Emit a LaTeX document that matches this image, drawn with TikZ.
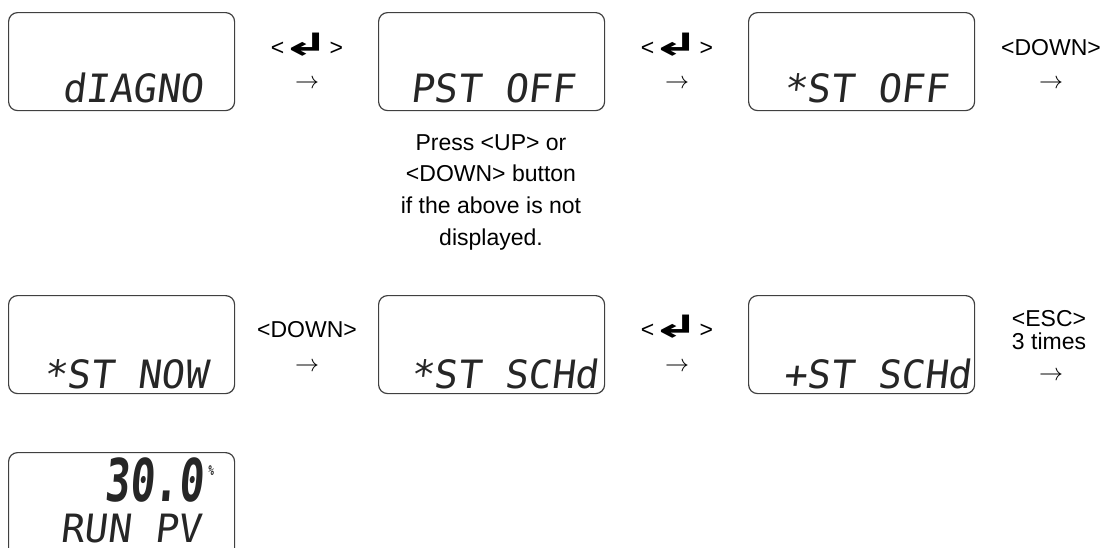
\documentclass[tikz,border=0pt]{standalone}
\usepackage{fontspec}
\setmainfont{Liberation Sans}
\newfontfamily\lcdfont[FakeSlant=0.12]{DejaVu Sans Mono}
\newfontfamily\keyfont{DejaVu Sans}
\usetikzlibrary{positioning,calc}
\newcommand\enterkey{{\keyfont\bfseries\fontsize{14pt}{14pt}\selectfont
  \kern-1.5pt\scalebox{2.1}[1.1]{↲}\kern-0.5pt}}

\begin{document}
\begin{tikzpicture}[
    x=0.5pt, y=-0.5pt,
    lcd/.style={draw=black!75, line width=0.6pt, rounded corners=4.5pt,
                minimum width=113pt, minimum height=49pt, inner sep=0pt, anchor=north west},
    seg/.style={font=\lcdfont\fontsize{19.5pt}{20pt}\selectfont, text=black!85,
                inner sep=0pt, anchor=base west},
    key/.style={font=\fontsize{11.5pt}{12pt}\selectfont, inner sep=0pt, anchor=base},
    note/.style={font=\fontsize{11.5pt}{15.8pt}\selectfont, inner sep=0pt, align=center},
  ]
  \clip (0,0) rectangle (1102,547);
  % displays
  \node[lcd] (d1) at (8,12)   {};
  \node[lcd] (d2) at (378,12) {};
  \node[lcd] (d3) at (748,12) {};
  \node[lcd] (d4) at (8,295)   {};
  \node[lcd] (d5) at (378,295) {};
  \node[lcd] (d6) at (748,295) {};
  \node[lcd, minimum height=60pt] (d7) at (8,452) {};
  % display texts
  \node[seg] (t1) at (62,102)  {dIAGNO};
  \node[seg] (t2) at (410,102) {PST~OFF};
  \node[seg] (t3) at (783,102) {*ST~OFF};
  \node[seg] (t4) at (43,388)  {*ST~NOW};
  \node[seg] (t5) at (410,388) {*ST~SCHd};
  \node[seg] (t6) at (783,388) {+ST~SCHd};
  \node[seg, font=\lcdfont\bfseries\fontsize{29.5pt}{30pt}\selectfont, xscale=0.7,
        anchor=base east] (t7) at (214,501)
        {30.0\kern3pt\raisebox{13pt}{\fontsize{7pt}{7pt}\selectfont\%}};
  \node[seg, font=\lcdfont\fontsize{19.5pt}{20pt}\selectfont] (t8) at (60,542) {RUN~PV};
  % keys, row 1
  \node[key] (k1) at (307,55)  {<\enterkey>};
  \node[key] (a1) at (307,88)  {$\rightarrow$};
  \node[key] (k2) at (677,55)  {<\enterkey>};
  \node[key] (a2) at (677,88)  {$\rightarrow$};
  \node[key] (k3) at (1051,55) {<DOWN>};
  \node[key] (a3) at (1051,88) {$\rightarrow$};
  % hint under PST OFF
  \node[note, anchor=north] (hint) at (491,134)
        {Press <UP> or\\<DOWN> button\\if the above is not\\displayed.};
  % keys, row 2
  \node[key] (k4) at (307,337) {<DOWN>};
  \node[key] (a4) at (307,371) {$\rightarrow$};
  \node[key] (k5) at (677,337) {<\enterkey>};
  \node[key] (a5) at (677,371) {$\rightarrow$};
  \node[key] (k6) at (1049,326) {<ESC>};
  \node[key] (k7) at (1049,349) {3 times};
  \node[key] (a6) at (1051,380) {$\rightarrow$};
\end{tikzpicture}
\end{document}
